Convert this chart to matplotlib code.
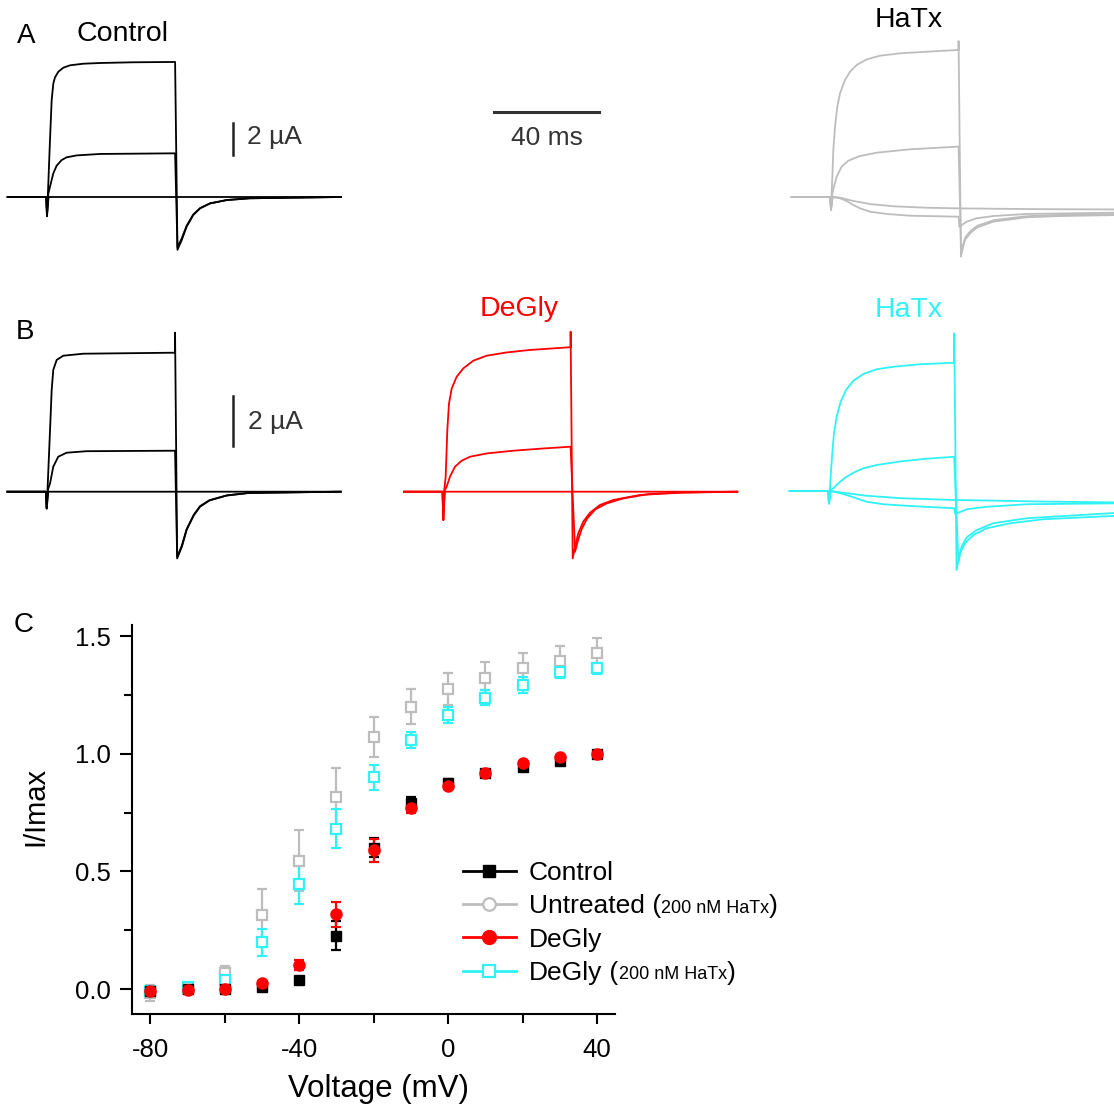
import matplotlib
matplotlib.use("Agg")
import matplotlib.pyplot as plt
from matplotlib.lines import Line2D
from matplotlib.ticker import MultipleLocator

plt.rcParams['font.family'] = ['Liberation Sans', 'DejaVu Sans']

W, H = 1114, 1106

# ---- current traces (time in ms from pulse onset, current in uA) ----
# A, control
ctlA_big_t = [-15, -0.3, 0, 0.4, 1.14, 1.78, 2.41, 3.05, 4.32, 6.22, 8.76, 13.8, 20.2, 32.9, 48.8,
              49.7, 51.3, 53.2, 55.7, 58.3, 62.1, 68.5, 77.3, 112]
ctlA_big = [0, 0, -1.2, 0.4, 3.56, 6.06, 7.1, 7.48, 7.83, 8.08, 8.23, 8.33, 8.375, 8.42, 8.44,
            -3.3, -2.7, -1.85, -1.13, -0.71, -0.4, -0.19, -0.08, 0]
ctlA_mid_t = [-15, -0.3, 0, 0.5, 1.14, 2.41, 3.68, 5.59, 7.49, 11.3, 20.2, 48.8,
              49.7, 51.3, 53.2, 55.7, 58.3, 62.1, 68.5, 77.3, 112]
ctlA_mid = [0, 0, -1.2, 0.2, 0.65, 1.48, 1.96, 2.31, 2.48, 2.6, 2.69, 2.73,
            -3.15, -2.6, -1.8, -1.1, -0.7, -0.4, -0.19, -0.08, 0]
ctlA_low_t = [-15, -0.3, 0, 0.6, 48.8, 112]
ctlA_low = [0, 0, -1.1, 0, 0, 0]

# A, HaTx
hxA_big_t = [-15, -0.3, 0, 0.51, 0.89, 1.52, 2.41, 3.43, 5.33, 7.24, 9.78, 13.6, 18.7, 26.3, 36.4, 48.6, 48.6,
             49.5, 50.2, 51.0, 53.0, 55.5, 61.8, 74.5, 87.2, 112]
hxA_big = [0, 0, -0.8, 1.27, 2.94, 4.4, 5.65, 6.48, 7.31, 7.83, 8.25, 8.6, 8.83, 8.98, 9.08, 9.19, 9.75,
           -3.73, -3.2, -2.69, -2.27, -1.92, -1.54, -1.27, -1.19, -1.12]
hxA_mid_t = [-15, -0.3, 0, 0.5, 1.14, 2.16, 4.06, 6.6, 11.05, 17.4, 30.1, 48.6,
             49.6, 50.3, 51.2, 53.2, 55.7, 62.0, 74.5, 87.2, 112]
hxA_mid = [0, 0, -0.8, 0.2, 0.65, 1.27, 1.9, 2.27, 2.56, 2.77, 2.98, 3.15,
           -3.5, -3.0, -2.52, -2.12, -1.8, -1.45, -1.2, -1.12, -1.06]
hxA_in1_t = [-15, -0.3, 0, 0.6, 3.43, 8.5, 14.9, 23.7, 36.4, 48.6, 60, 80, 112]
hxA_in1 = [0, 0, -0.8, 0, -0.04, -0.25, -0.44, -0.58, -0.67, -0.71, -0.73, -0.76, -0.78]
hxA_in2_t = [-15, -0.3, 0, 0.6, 3.43, 5.97, 8.5, 11.05, 14.9, 21.2, 30.1, 48.6,
             48.9, 51.7, 55.5, 61.8, 74.5, 112]
hxA_in2 = [0, 0, -0.8, 0, -0.08, -0.25, -0.5, -0.71, -0.92, -1.06, -1.17, -1.23,
           -1.86, -1.54, -1.33, -1.19, -1.06, -0.97]

# B, control
ctlB_big_t = [-15, -0.3, 0, 0.4, 1.27, 1.9, 2.5, 3.8, 6.3, 14, 48.9, 48.9,
              49.7, 51.5, 53.3, 56, 58.4, 62, 68.6, 77, 112]
ctlB_big = [0, 0, -0.67, 0.3, 2.47, 4.07, 4.87, 5.27, 5.44, 5.52, 5.56, 6.36,
            -2.67, -2.2, -1.53, -0.95, -0.6, -0.35, -0.15, -0.05, 0]
ctlB_mid_t = [-15, -0.3, 0, 0.5, 1.27, 2.5, 4.4, 7.6, 15.2, 48.9,
              49.7, 51.5, 53.3, 56, 58.4, 62, 68.6, 77, 112]
ctlB_mid = [0, 0, -0.67, 0.1, 0.33, 1.0, 1.4, 1.56, 1.62, 1.64,
            -2.6, -2.15, -1.5, -0.93, -0.58, -0.34, -0.15, -0.05, 0]
ctlB_low_t = [-15, -0.3, 0, 0.6, 48.9, 112]
ctlB_low = [0, 0, -0.67, 0, 0, 0]

# B, DeGly
dgB_big_t = [-15, -0.3, 0, 0.4, 0.9, 1.53, 2.17, 3.2, 5.1, 7.6, 11.4, 16.5, 24.1, 33, 48.5, 48.5,
             49.3, 50.2, 51.4, 53.3, 55.9, 59.7, 64.8, 74.9, 90.2, 112]
dgB_big = [0, 0, -1.13, 0.1, 0.6, 2.47, 3.53, 4.13, 4.6, 4.93, 5.24, 5.44, 5.57, 5.67, 5.78, 6.4,
           -2.67, -2.2, -1.67, -1.2, -0.84, -0.53, -0.33, -0.13, -0.04, 0]
dgB_mid_t = [-15, -0.3, 0, 0.5, 1.27, 2.54, 4.44, 7.0, 10.2, 16.5, 26.7, 36.8, 48.5,
             50.2, 51.3, 52.7, 54.8, 58.0, 62.2, 68.5, 78.5, 91, 112]
dgB_mid = [0, 0, -1.13, 0.05, 0.2, 0.6, 1.0, 1.24, 1.4, 1.53, 1.64, 1.72, 1.8,
           -2.4, -1.95, -1.5, -1.07, -0.7, -0.47, -0.27, -0.09, -0.03, 0]
dgB_low_t = [-15, -0.3, 0, 0.6, 48.5, 112]
dgB_low = [0, 0, -1.13, 0, 0, 0]

# B, DeGly + HaTx
hxB_big_t = [-15, -0.3, 0, 0.63, 1.14, 1.9, 2.92, 4.44, 6.48, 9.27, 13.1, 18.2, 24.5, 34.7, 47.7, 47.7,
             48.6, 49.9, 51.8, 55, 60.1, 69, 81.6, 112]
hxB_big = [0, 0, -0.5, 0.57, 1.37, 2.31, 2.97, 3.57, 4.04, 4.41, 4.68, 4.87, 4.97, 5.07, 5.13, 6.3,
           -3.16, -2.49, -2.09, -1.76, -1.49, -1.29, -1.13, -0.98]
hxB_mid_t = [-15, -0.3, 0, 0.6, 1.65, 3.55, 6.1, 9.27, 13.1, 18.2, 27.7, 37.2, 47.7,
             49.3, 50.5, 52.5, 56.3, 62.6, 75.3, 112]
hxB_mid = [0, 0, -0.5, 0.05, 0.11, 0.31, 0.53, 0.73, 0.91, 1.04, 1.19, 1.29, 1.37,
           -2.83, -2.23, -1.85, -1.56, -1.29, -1.09, -0.86]
hxB_in1_t = [-15, -0.3, 0, 0.6, 5.46, 14.3, 27.7, 47.7, 60, 80, 112]
hxB_in1 = [0, 0, -0.5, 0, -0.07, -0.19, -0.29, -0.36, -0.38, -0.42, -0.46]
hxB_in2_t = [-15, -0.3, 0, 0.6, 5.46, 9.27, 14.3, 20.7, 30.9, 47.7, 48.1, 52.5, 60.1, 75.3, 112]
hxB_in2 = [0, 0, -0.5, 0, -0.12, -0.25, -0.43, -0.53, -0.6, -0.69, -0.92, -0.73, -0.63, -0.53, -0.49]

# ---- I/Imax vs voltage ----
volt = [-80, -70, -60, -50, -40, -30, -20, -10, 0, 10, 20, 30, 40]
ctl_y = [-0.01, 0.0, 0.0, 0.007, 0.038, 0.226, 0.60, 0.79, 0.877, 0.917, 0.945, 0.968, 0.997]
ctl_e = [0.01, 0.01, 0.01, 0.008, 0.01, 0.062, 0.04, 0.025, 0.015, 0.012, 0.01, 0.01, 0.005]
unt_y = [-0.017, 0.0, 0.068, 0.316, 0.546, 0.818, 1.07, 1.20, 1.275, 1.323, 1.363, 1.394, 1.426]
unt_e = [0.035, 0.02, 0.03, 0.11, 0.13, 0.12, 0.085, 0.075, 0.07, 0.067, 0.067, 0.065, 0.064]
dg_y = [-0.01, -0.005, 0.0, 0.025, 0.103, 0.318, 0.589, 0.768, 0.863, 0.92, 0.96, 0.988, 0.997]
dg_e = [0.01, 0.01, 0.01, 0.01, 0.02, 0.054, 0.048, 0.02, 0.015, 0.012, 0.01, 0.008, 0.005]
dghx_y = [-0.01, 0.007, 0.04, 0.198, 0.447, 0.682, 0.90, 1.057, 1.163, 1.238, 1.292, 1.349, 1.363]
dghx_e = [0.02, 0.015, 0.02, 0.057, 0.087, 0.083, 0.054, 0.034, 0.034, 0.033, 0.033, 0.027, 0.024]

BLACK = 'black'
GRAY = '#bdbdbd'
RED = '#ff0000'
CYAN = '#2ef2f6'

fig = plt.figure(figsize=(W / 100, H / 100), dpi=100)


def trace_axes(x_on, y_base, xlim, ylim, pxms, pxua):
    # axes placed so that the trace units land at the right pixel scale
    left = x_on + xlim[0] * pxms
    right = x_on + xlim[1] * pxms
    top = y_base - ylim[1] * pxua
    bottom = y_base - ylim[0] * pxua
    ax = fig.add_axes([left / W, 1 - bottom / H, (right - left) / W, (bottom - top) / H])
    ax.set_xlim(*xlim)
    ax.set_ylim(*ylim)
    ax.axis('off')
    ax.patch.set_visible(False)
    return ax


PXMS = 2.625
lw = 1.3

axA1 = trace_axes(47, 197, (-16, 113), (-4.5, 10.5), PXMS, 16)
for t, y in [(ctlA_low_t, ctlA_low), (ctlA_mid_t, ctlA_mid), (ctlA_big_t, ctlA_big)]:
    axA1.plot(t, y, color=BLACK, lw=lw)
axA1.plot([70.9, 70.9], [2.63, 4.63], color='#222222', lw=1.8)
axA1.text(76.2, 3.75, '2 µA', fontsize=19, va='center', ha='left', color='#333333')
axA1.plot([170.3, 210.3], [5.31, 5.31], color='#333333', lw=2.2, clip_on=False)
axA1.text(190.3, 3.7, '40 ms', fontsize=19, va='center', ha='center', color='#333333')

axA2 = trace_axes(831, 197, (-16, (W - 831) / PXMS), (-4.5, 10.5), PXMS, 16)
for t, y in [(hxA_in1_t, hxA_in1), (hxA_in2_t, hxA_in2), (hxA_mid_t, hxA_mid), (hxA_big_t, hxA_big)]:
    axA2.plot(t, y, color=GRAY, lw=lw)

axB1 = trace_axes(46.7, 491.7, (-16, 113), (-4, 7), PXMS, 25)
for t, y in [(ctlB_low_t, ctlB_low), (ctlB_mid_t, ctlB_mid), (ctlB_big_t, ctlB_big)]:
    axB1.plot(t, y, color=BLACK, lw=lw)
axB1.plot([70.9, 70.9], [1.83, 3.83], color='#222222', lw=1.8)
axB1.text(76.7, 2.79, '2 µA', fontsize=19, va='center', ha='left', color='#333333')

axB2 = trace_axes(443.3, 491.7, (-16, 113), (-4, 7), PXMS, 25)
for t, y in [(dgB_low_t, dgB_low), (dgB_mid_t, dgB_mid), (dgB_big_t, dgB_big)]:
    axB2.plot(t, y, color=RED, lw=lw)

axB3 = trace_axes(829, 491, (-16, (W - 829) / PXMS), (-4, 7), PXMS, 25)
for t, y in [(hxB_in1_t, hxB_in1), (hxB_in2_t, hxB_in2), (hxB_mid_t, hxB_mid), (hxB_big_t, hxB_big)]:
    axB3.plot(t, y, color=CYAN, lw=lw)


def ftext(x, y, s, **kw):
    fig.text(x / W, 1 - y / H, s, ha='center', va='center', **kw)


ftext(26, 36, 'A', fontsize=20)
ftext(122, 34, 'Control', fontsize=20.5)
ftext(909, 20, 'HaTx', fontsize=20.5)
ftext(25, 332, 'B', fontsize=20)
ftext(519, 309, 'DeGly', fontsize=20.5, color=RED)
ftext(909, 310, 'HaTx', fontsize=20.5, color=CYAN)
ftext(24, 625, 'C', fontsize=20)

# ---- panel C ----
axC = fig.add_axes([131.7 / W, 1 - 1014 / H, 483.3 / W, 389 / H])
ekw = dict(capsize=3.4, elinewidth=1.6, capthick=1.6, ls='none')
axC.errorbar(volt, unt_y, yerr=unt_e, fmt='s', color=GRAY, mfc='white', mec=GRAY, ms=7, mew=1.6, **ekw)
axC.errorbar(volt, dghx_y, yerr=dghx_e, fmt='s', color=CYAN, mfc='white', mec=CYAN, ms=7, mew=1.6, **ekw)
axC.errorbar(volt, ctl_y, yerr=ctl_e, fmt='s', color=BLACK, ms=7, **ekw)
axC.errorbar(volt, dg_y, yerr=dg_e, fmt='o', color=RED, ms=8, **ekw)

axC.set_xlim(-85, 44.8)
axC.set_ylim(-0.106, 1.547)
axC.spines['top'].set_visible(False)
axC.spines['right'].set_visible(False)
axC.spines['left'].set_linewidth(1.5)
axC.spines['bottom'].set_linewidth(1.5)
axC.xaxis.set_major_locator(MultipleLocator(40))
axC.xaxis.set_minor_locator(MultipleLocator(20))
axC.yaxis.set_major_locator(MultipleLocator(0.5))
axC.yaxis.set_minor_locator(MultipleLocator(0.25))
axC.xaxis.set_major_formatter(lambda v, p: f'{v:.0f}')
axC.yaxis.set_major_formatter(lambda v, p: f'{v:.1f}')
axC.tick_params(axis='x', which='major', length=7, width=1.5, pad=10, labelsize=18.5)
axC.tick_params(axis='x', which='minor', length=6.5, width=1.5)
axC.tick_params(axis='y', which='major', length=9, width=1.5, pad=6, labelsize=18.5)
axC.tick_params(axis='y', which='minor', length=5.5, width=1.5)
axC.set_xlabel('Voltage (mV)', fontsize=22.5)
axC.xaxis.set_label_coords(0.51, -0.155)
axC.set_ylabel('I/Imax', fontsize=21)
axC.yaxis.set_label_coords(-0.171, 0.533)

handles = [
    Line2D([], [], color=BLACK, marker='s', ms=9, lw=2),
    Line2D([], [], color=GRAY, marker='o', mfc='white', ms=9, mew=1.6, lw=2),
    Line2D([], [], color=RED, marker='o', ms=10, lw=2),
    Line2D([], [], color=CYAN, marker='s', mfc='white', ms=8, mew=1.6, lw=2),
]
labels = ['Control', 'Untreated', 'DeGly', 'DeGly']
leg = axC.legend(handles, labels, loc='upper left', bbox_to_anchor=(0.6855, 0.393),
                 frameon=False, fontsize=19, borderpad=0, borderaxespad=0,
                 handlelength=2.0, handletextpad=0.5, labelspacing=0.35)

fig.canvas.draw()
for i in (1, 3):
    a1 = axC.annotate(' (', xy=(1, 0), xycoords=leg.texts[i], va='bottom', ha='left',
                      fontsize=19, zorder=6)
    a2 = axC.annotate('200 nM HaTx', xy=(1, 0), xycoords=a1, xytext=(0, 1.27),
                      textcoords='offset points', va='bottom', ha='left', fontsize=13, zorder=6)
    axC.annotate(')', xy=(1, 0), xycoords=a2, xytext=(0, -1.27),
                 textcoords='offset points', va='bottom', ha='left', fontsize=19, zorder=6)

fig.savefig('out.png', dpi=100)
